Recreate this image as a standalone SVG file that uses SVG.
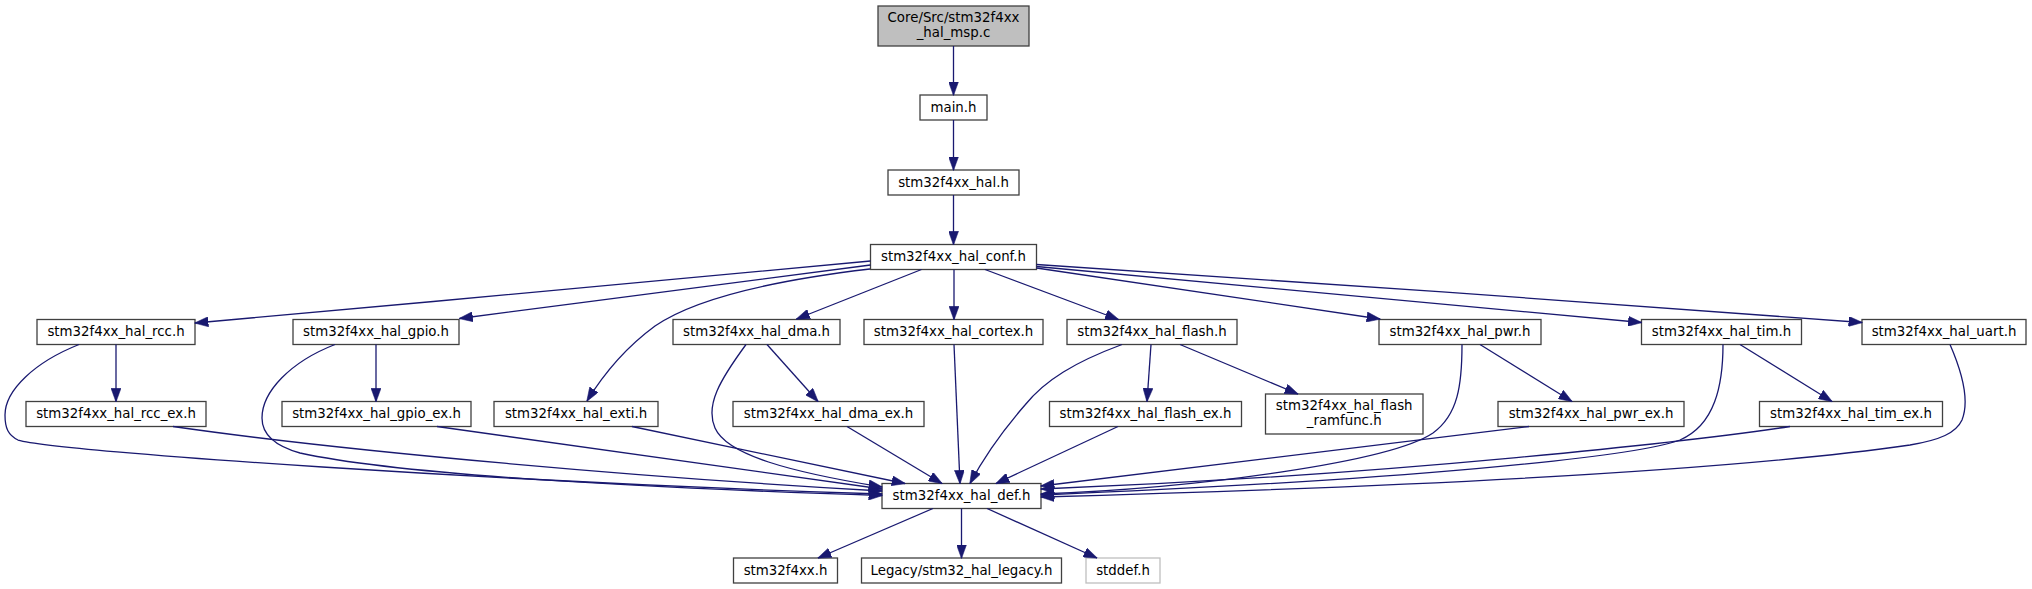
<svg xmlns="http://www.w3.org/2000/svg" width="2032" height="589" viewBox="0 0 2032 589">
<style>
.n rect{fill:#ffffff;stroke:#404040;stroke-width:1.3}
.n.root rect{fill:#bfbfbf}
.n.ext rect{stroke:#bfbfbf}
.n text{font-family:"DejaVu Sans","Liberation Sans",sans-serif;font-size:13.33px;fill:#000000;text-anchor:middle}
.e path{fill:none;stroke:#191970;stroke-width:1.3}
</style>
<defs>
<marker id="ah" markerUnits="userSpaceOnUse" markerWidth="14" markerHeight="10" viewBox="0 0 13 9.4" refX="12.5" refY="4.7" orient="auto">
<path d="M0,0 L13,4.7 L0,9.4 Z" fill="#191970" stroke="#191970" stroke-width="0.5"/>
</marker>
</defs>
<rect width="2032" height="589" fill="#ffffff"/>

<g id="n_core" class="n root"><rect x="878" y="6" width="151" height="40"/><text x="953.5" y="22">Core/Src/stm32f4xx</text><text x="953.5" y="36.5">_hal_msp.c</text></g>
<g id="n_main" class="n"><rect x="920" y="95" width="67" height="25"/><text x="953.5" y="111.7">main.h</text></g>
<g id="n_hal" class="n"><rect x="888" y="170" width="131" height="25"/><text x="953.5" y="186.7">stm32f4xx_hal.h</text></g>
<g id="n_conf" class="n"><rect x="870.5" y="244.5" width="166" height="25"/><text x="953.5" y="261.2">stm32f4xx_hal_conf.h</text></g>

<g id="n_rcc" class="n"><rect x="37" y="319.5" width="158" height="25"/><text x="116" y="336.2">stm32f4xx_hal_rcc.h</text></g>
<g id="n_gpio" class="n"><rect x="293" y="319.5" width="166" height="25"/><text x="376" y="336.2">stm32f4xx_hal_gpio.h</text></g>
<g id="n_dma" class="n"><rect x="673" y="319.5" width="167" height="25"/><text x="756.5" y="336.2">stm32f4xx_hal_dma.h</text></g>
<g id="n_cortex" class="n"><rect x="864" y="319.5" width="179" height="25"/><text x="953.5" y="336.2">stm32f4xx_hal_cortex.h</text></g>
<g id="n_flash" class="n"><rect x="1067" y="319.5" width="170" height="25"/><text x="1152" y="336.2">stm32f4xx_hal_flash.h</text></g>
<g id="n_pwr" class="n"><rect x="1379" y="319.5" width="162" height="25"/><text x="1460" y="336.2">stm32f4xx_hal_pwr.h</text></g>
<g id="n_tim" class="n"><rect x="1641.5" y="319.5" width="160" height="25"/><text x="1721.5" y="336.2">stm32f4xx_hal_tim.h</text></g>
<g id="n_uart" class="n"><rect x="1862" y="319.5" width="164" height="25"/><text x="1944" y="336.2">stm32f4xx_hal_uart.h</text></g>

<g id="n_rcc_ex" class="n"><rect x="26" y="401.5" width="180" height="25"/><text x="116" y="418.2">stm32f4xx_hal_rcc_ex.h</text></g>
<g id="n_gpio_ex" class="n"><rect x="282" y="401.5" width="189" height="25"/><text x="376.5" y="418.2">stm32f4xx_hal_gpio_ex.h</text></g>
<g id="n_exti" class="n"><rect x="494" y="401.5" width="164" height="25"/><text x="576" y="418.2">stm32f4xx_hal_exti.h</text></g>
<g id="n_dma_ex" class="n"><rect x="733" y="401.5" width="191" height="25"/><text x="828.5" y="418.2">stm32f4xx_hal_dma_ex.h</text></g>
<g id="n_flash_ex" class="n"><rect x="1049.5" y="401.5" width="192" height="25"/><text x="1145.5" y="418.2">stm32f4xx_hal_flash_ex.h</text></g>
<g id="n_ramfunc" class="n"><rect x="1265.5" y="394" width="157.5" height="40"/><text x="1344.2" y="410">stm32f4xx_hal_flash</text><text x="1344.2" y="424.5">_ramfunc.h</text></g>
<g id="n_pwr_ex" class="n"><rect x="1498" y="401.5" width="186" height="25"/><text x="1591" y="418.2">stm32f4xx_hal_pwr_ex.h</text></g>
<g id="n_tim_ex" class="n"><rect x="1759.5" y="401.5" width="183" height="25"/><text x="1851" y="418.2">stm32f4xx_hal_tim_ex.h</text></g>

<g id="n_def" class="n"><rect x="882" y="483.5" width="159" height="25"/><text x="961.5" y="500.2">stm32f4xx_hal_def.h</text></g>

<g id="n_stm32f4xx" class="n"><rect x="733.5" y="558" width="104" height="25"/><text x="785.5" y="574.7">stm32f4xx.h</text></g>
<g id="n_legacy" class="n"><rect x="861.5" y="558" width="200" height="25"/><text x="961.5" y="574.7">Legacy/stm32_hal_legacy.h</text></g>
<g id="n_stddef" class="n ext"><rect x="1086" y="558" width="74" height="25"/><text x="1123" y="574.7">stddef.h</text></g>

<g id="connectors" class="e">
<path marker-end="url(#ah)" d="M953.5,46 L953.5,95"/>
<path marker-end="url(#ah)" d="M953.5,120 L953.5,170"/>
<path marker-end="url(#ah)" d="M953.5,195 L953.5,244.5"/>

<path marker-end="url(#ah)" d="M870.5,261 C 700,277 420,303 195,323"/>
<path marker-end="url(#ah)" d="M870.5,265 C 760,280 600,300 459.5,318.5"/>
<path marker-end="url(#ah)" d="M870,269 C 760,282 690,302 655,326 C 625,348 603,375 587,401"/>
<path marker-end="url(#ah)" d="M921.5,269.5 L796.5,319"/>
<path marker-end="url(#ah)" d="M954,269.5 L954,319.5"/>
<path marker-end="url(#ah)" d="M985,269.5 L1118.5,319.5"/>
<path marker-end="url(#ah)" d="M1036.5,268 L1380,319"/>
<path marker-end="url(#ah)" d="M1036.5,266.5 L1641.5,322.5"/>
<path marker-end="url(#ah)" d="M1036.5,264.5 C 1300,282 1600,302 1862,322.5"/>

<path marker-end="url(#ah)" d="M116,344.5 L116,401.5"/>
<path marker-end="url(#ah)" d="M79,344.5 C 35,362 5,390 5,415 C 5,428 8,435 18,440 C 60,452 500,482 882,494"/>
<path marker-end="url(#ah)" d="M173,426.5 C 350,452 650,478 882,491"/>
<path marker-end="url(#ah)" d="M376,344.5 L376,401.5"/>
<path marker-end="url(#ah)" d="M335,344.5 C 290,362 262,392 262,418 C 262,435 275,446 300,453 C 400,475 650,488 882,495.5"/>
<path marker-end="url(#ah)" d="M437,426.5 L882,489"/>
<path marker-end="url(#ah)" d="M632,426.5 L905,483.5"/>
<path marker-end="url(#ah)" d="M746,344.5 C 720,380 705,405 715,428 C 727,455 790,472 882,487"/>
<path marker-end="url(#ah)" d="M767,344.5 L818,401.5"/>
<path marker-end="url(#ah)" d="M847,426.5 L942,483.5"/>
<path marker-end="url(#ah)" d="M954,344.5 L960,483.5"/>
<path marker-end="url(#ah)" d="M1122,344.5 C 1075,362 1045,380 1025,405 C 1005,428 985,455 970,483.5"/>
<path marker-end="url(#ah)" d="M1151,344.5 L1147,401.5"/>
<path marker-end="url(#ah)" d="M1180,344.5 L1298,394"/>
<path marker-end="url(#ah)" d="M1118,426.5 L996,483.5"/>
<path marker-end="url(#ah)" d="M1462,344.5 C 1462,385 1458,415 1433,433 C 1390,462 1200,488 1041,494"/>
<path marker-end="url(#ah)" d="M1480,344.5 L1572,401.5"/>
<path marker-end="url(#ah)" d="M1529,426.5 L1041,486"/>
<path marker-end="url(#ah)" d="M1723,344.5 C 1723,385 1715,425 1680,440 C 1630,458 1400,480 1041,495"/>
<path marker-end="url(#ah)" d="M1740,344.5 L1832,401.5"/>
<path marker-end="url(#ah)" d="M1790,426.5 C 1700,440 1400,475 1041,489"/>
<path marker-end="url(#ah)" d="M1950,344.5 C 1962,372 1970,400 1962,420 C 1956,433 1940,440 1910,445 C 1700,475 1300,490 1041,497"/>

<path marker-end="url(#ah)" d="M933,508.5 L818,558"/>
<path marker-end="url(#ah)" d="M961.5,508.5 L961.5,558"/>
<path marker-end="url(#ah)" d="M987,508.5 L1097,558"/>
</g>
</svg>
